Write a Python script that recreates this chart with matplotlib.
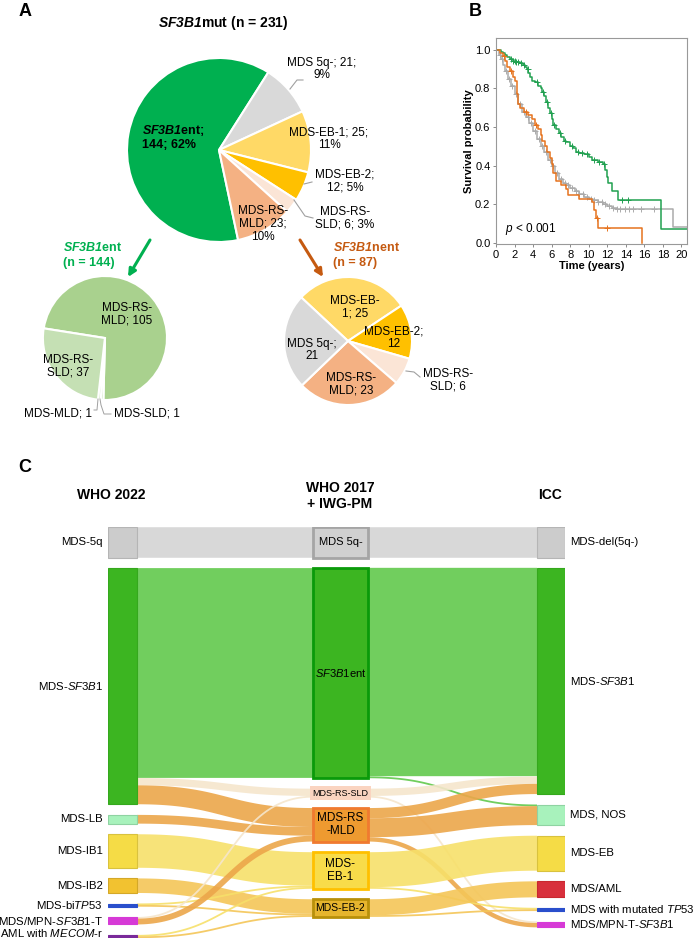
import numpy as np
import matplotlib.pyplot as plt

plt.rcParams['font.family'] = ['Liberation Sans', 'DejaVu Sans']
plt.rcParams['mathtext.fontset'] = 'custom'
plt.rcParams['mathtext.rm'] = 'Liberation Sans'
plt.rcParams['mathtext.it'] = 'Liberation Sans:italic'
plt.rcParams['mathtext.bf'] = 'Liberation Sans:bold:italic'

# ---------------- panel A data
mut_names = ['SF3B1ent', 'MDS 5q-', 'MDS-EB-1', 'MDS-EB-2', 'MDS-RS-SLD', 'MDS-RS-MLD']
mut_counts = [144, 21, 25, 12, 6, 23]
mut_colors = ['#00b050', '#d9d9d9', '#ffd966', '#ffc000', '#fbe5d6', '#f4b183']

ent_names = ['MDS-RS-MLD', 'MDS-MLD', 'MDS-SLD', 'MDS-RS-SLD']
ent_counts = [105, 1, 1, 37]
ent_colors = ['#a9d18e', '#c5e0b4', '#c5e0b4', '#c5e0b4']

nent_names = ['MDS-EB-1', 'MDS-EB-2', 'MDS-RS-SLD', 'MDS-RS-MLD', 'MDS 5q-']
nent_counts = [25, 12, 6, 23, 21]
nent_colors = ['#ffd966', '#ffc000', '#fbe5d6', '#f4b183', '#d9d9d9']

# ---------------- panel B data (Kaplan-Meier steps)
ent_t = [0, 0.5, 0.8, 1.0, 1.2, 1.5, 1.8, 2.1, 2.6, 2.9, 3.1, 3.3, 3.5, 3.7, 3.9, 4.2, 4.5, 4.8,
         5.0, 5.2, 5.4, 5.6, 5.8, 6.0, 6.2, 6.5, 6.8, 7.0, 7.3, 7.6, 8.0, 8.3, 8.6, 9.0, 9.5,
         10.0, 10.4, 11.0, 11.5, 11.8, 12.0, 12.1, 12.5, 13.2, 17.8]
ent_s = [1.0, 0.99, 0.98, 0.97, 0.96, 0.95, 0.94, 0.935, 0.93, 0.92, 0.91, 0.90, 0.88, 0.86, 0.84,
         0.83, 0.81, 0.80, 0.78, 0.76, 0.73, 0.70, 0.67, 0.64, 0.61, 0.59, 0.57, 0.55, 0.53, 0.52,
         0.50, 0.49, 0.47, 0.465, 0.46, 0.445, 0.43, 0.42, 0.41, 0.38, 0.34, 0.31, 0.27, 0.22, 0.07]
ent_cens = [1.6, 1.8, 2.0, 2.2, 2.4, 2.7, 3.0, 3.4, 4.4, 5.1, 5.5, 5.9, 6.3, 6.9, 7.4, 8.2, 8.8,
            9.3, 9.8, 10.6, 11.1, 11.6, 13.6, 14.2]

nent_t = [0, 0.4, 0.8, 1.0, 1.2, 1.5, 1.8, 2.1, 2.3, 2.4, 2.6, 3.0, 3.5, 3.9, 4.2, 4.5, 4.8, 5.0,
          5.3, 5.5, 5.8, 6.0, 6.2, 6.5, 7.0, 7.5, 7.8, 9.0, 10.4, 10.6, 10.8, 11.0, 15.8]
nent_s = [1.0, 0.98, 0.965, 0.94, 0.91, 0.89, 0.86, 0.84, 0.77, 0.72, 0.70, 0.68, 0.66, 0.64,
          0.61, 0.59, 0.56, 0.53, 0.50, 0.47, 0.44, 0.41, 0.36, 0.32, 0.30, 0.28, 0.25, 0.23,
          0.21, 0.17, 0.13, 0.08, 0.0]
nent_cens = [0.9, 1.6, 3.2, 4.3, 10.9, 12.0]

oth_t = [0, 0.3, 0.5, 0.8, 1.0, 1.3, 1.6, 2.0, 2.4, 2.8, 3.2, 3.6, 4.0, 4.4, 4.8, 5.2, 5.6, 6.0,
         6.4, 6.8, 7.2, 7.6, 8.0, 8.5, 9.0, 9.5, 10.0, 10.5, 11.0, 11.5, 12.0, 12.5, 13.0, 19.1]
oth_s = [1.0, 0.97, 0.95, 0.92, 0.89, 0.85, 0.81, 0.77, 0.72, 0.68, 0.65, 0.62, 0.58, 0.54, 0.50,
         0.47, 0.43, 0.40, 0.36, 0.33, 0.31, 0.30, 0.285, 0.27, 0.255, 0.24, 0.23, 0.22, 0.21,
         0.20, 0.19, 0.18, 0.175, 0.085]
oth_cens = [0.4, 0.7, 1.1, 1.4, 1.7, 2.2, 2.6, 3.0, 3.4, 3.8, 4.2, 4.6, 5.0, 5.4, 5.8, 6.2, 6.6,
            7.0, 7.4, 7.8, 8.2, 8.6, 9.0, 9.4, 9.8, 10.2, 10.6, 11.0, 11.4, 11.8, 12.2, 12.6,
            13.0, 13.4, 13.9, 14.3, 14.8, 15.6, 17.0]

# ---------------- panel C data (Sankey)
who22 = ['MDS-5q', 'MDS-$\\mathit{SF3B1}$', 'MDS-LB', 'MDS-IB1', 'MDS-IB2', 'MDS-bi$\\mathit{TP53}$',
         'MDS/MPN-$\\mathit{SF3B1}$-T', 'AML with $\\mathit{MECOM}$-r']
who17 = ['MDS 5q-', '$\\mathit{SF3B1}$ent', 'MDS-RS-SLD', 'MDS-RS\n-MLD', 'MDS-\nEB-1', 'MDS-EB-2']
icc = ['MDS-del(5q-)', 'MDS-$\\mathit{SF3B1}$', 'MDS, NOS', 'MDS-EB', 'MDS/AML',
       'MDS with mutated $\\mathit{TP53}$', 'MDS/MPN-T-$\\mathit{SF3B1}$']
# (source, target, patients)
flows_22_17 = [(0, 0, 21), (1, 1, 144), (1, 2, 5), (1, 3, 13), (2, 3, 6), (3, 4, 23), (4, 5, 10),
               (5, 4, 1), (5, 5, 1), (6, 2, 1), (6, 3, 4), (7, 4, 1), (7, 5, 1)]
flows_17_icc = [(0, 0, 21), (1, 1, 143), (1, 2, 1), (2, 1, 5), (2, 6, 1), (3, 1, 7), (3, 2, 13),
                (3, 6, 3), (4, 3, 24), (4, 5, 1), (5, 4, 11), (5, 5, 1)]

who22_fill = ['#cccccc', '#3cb521', '#a8f2bc', '#f5dc46', '#f2c230', '#2a4fcc', '#d63ad6', '#7a2a9a']
who22_edge = ['#b5b5b5', '#35a81d', '#8fd3a2', '#d9c23e', '#d4a828', '#2a4fcc', '#d63ad6', '#7a2a9a']
icc_fill = ['#cccccc', '#3cb521', '#a8f2bc', '#f5dc46', '#d8303c', '#2a4fcc', '#d63ad6']
icc_edge = ['#b5b5b5', '#35a81d', '#8fd3a2', '#d9c23e', '#c8282f', '#2a4fcc', '#d63ad6']
who17_fill = ['#d0d0d0', '#3cb521', '#fad4c0', '#ee9a30', '#f8dc4a', '#e6b52e']
who17_edge = ['#a5a5a5', '#0a9a0a', '#fad4c0', '#f07a30', '#ffc000', '#b8900a']
who17_link = ['#d4d4d4', '#62c94c', '#f5e6cc', '#eca64a', '#f7e06a', '#f4c658']
who17_fs = [8, 8, 6.5, 8.5, 8.5, 7.5]

W, H = 696, 940
fig = plt.figure(figsize=(W / 100, H / 100), dpi=100)
ax = fig.add_axes([0, 0, 1, 1])


def Y(y):
    return H - y


# ================= panel A
wp = dict(edgecolor='white', linewidth=1.5)
ax.pie(mut_counts, colors=mut_colors, startangle=-78, counterclock=False,
       center=(219, Y(150)), radius=92, wedgeprops=wp, frame=True)
ax.pie(ent_counts, colors=ent_colors, startangle=171, counterclock=False,
       explode=[0, 0, 0, 0.11], center=(105, Y(338)), radius=62, wedgeprops=wp, frame=True)
ax.pie(nent_counts, colors=nent_colors, startangle=137, counterclock=False,
       center=(348, Y(341)), radius=64, wedgeprops=wp, frame=True)

tot = sum(mut_counts)
pct = [round(100 * c / tot) for c in mut_counts]
fs = 8.5
ax.text(25, Y(12), 'A', fontsize=13, fontweight='bold', ha='center', va='center')
ax.text(223, Y(23), '$\\mathbf{SF3B1}$mut (n = %d)' % tot, fontsize=10, fontweight='bold',
        ha='center', va='center')
ax.text(142, Y(137), '$\\mathbf{SF3B1}$ent;\n%d; %d%%' % (mut_counts[0], pct[0]), fontsize=9,
        fontweight='bold', ha='left', va='center', linespacing=1.15)
ax.text(322, Y(69), 'MDS 5q-; %d;\n%d%%' % (mut_counts[1], pct[1]), fontsize=fs, ha='center',
        va='center', linespacing=1.1)
ax.text(329, Y(139), 'MDS-EB-1; %d;\n%d%%' % (mut_counts[2], pct[2]), fontsize=fs, ha='center',
        va='center', linespacing=1.1)
ax.text(345, Y(181), 'MDS-EB-2;\n%d; %d%%' % (mut_counts[3], pct[3]), fontsize=fs, ha='center',
        va='center', linespacing=1.1)
ax.text(345, Y(218), 'MDS-RS-\nSLD; %d; %d%%' % (mut_counts[4], pct[4]), fontsize=fs,
        ha='center', va='center', linespacing=1.1)
ax.text(263, Y(224), 'MDS-RS-\nMLD; %d;\n%d%%' % (mut_counts[5], pct[5]), fontsize=fs,
        ha='center', va='center', linespacing=1.1)
lc = '#a0a0a0'
ax.plot([290, 297, 303], [Y(89), Y(80), Y(80)], color=lc, lw=0.8)
ax.plot([304, 312], [Y(184), Y(182)], color=lc, lw=0.8)
ax.plot([294, 305, 313], [Y(200), Y(216), Y(218)], color=lc, lw=0.8)

# sub-pie headers and arrows
ax.text(63, Y(255), '$\\mathbf{SF3B1}$ent\n(n = %d)' % sum(ent_counts), fontsize=9,
        fontweight='bold', color='#00b050', ha='left', va='center', linespacing=1.25)
ax.text(333, Y(255), '$\\mathbf{SF3B1}$nent\n(n = %d)' % sum(nent_counts), fontsize=9,
        fontweight='bold', color='#c55a11', ha='left', va='center', linespacing=1.25)
ax.annotate('', xy=(128, Y(277)), xytext=(150, Y(240)),
            arrowprops=dict(arrowstyle='-|>', color='#00b050', lw=2.2, mutation_scale=11,
                            shrinkA=0, shrinkB=0))
ax.annotate('', xy=(323, Y(277)), xytext=(300, Y(240)),
            arrowprops=dict(arrowstyle='-|>', color='#c55a11', lw=2.2, mutation_scale=11,
                            shrinkA=0, shrinkB=0))

ax.text(127, Y(314), 'MDS-RS-\nMLD; %d' % ent_counts[0], fontsize=fs, ha='center', va='center',
        linespacing=1.1)
ax.text(68, Y(366), 'MDS-RS-\nSLD; %d' % ent_counts[3], fontsize=fs, ha='center', va='center',
        linespacing=1.1)
ax.text(92, Y(413), 'MDS-MLD; %d' % ent_counts[1], fontsize=fs, ha='right', va='center')
ax.text(114, Y(414), 'MDS-SLD; %d' % ent_counts[2], fontsize=fs, ha='left', va='center')
ax.plot([98, 97, 94], [Y(399), Y(410), Y(410)], color=lc, lw=0.7)
ax.plot([100, 101, 104, 111], [Y(399), Y(405), Y(414), Y(414)], color=lc, lw=0.7)

ax.text(355, Y(307), 'MDS-EB-\n1; %d' % nent_counts[0], fontsize=fs, ha='center', va='center',
        linespacing=1.1)
ax.text(394, Y(338), 'MDS-EB-2;\n%d' % nent_counts[1], fontsize=fs, ha='center', va='center',
        linespacing=1.1)
ax.text(312, Y(350), 'MDS 5q-;\n%d' % nent_counts[4], fontsize=fs, ha='center', va='center',
        linespacing=1.1)
ax.text(351, Y(384), 'MDS-RS-\nMLD; %d' % nent_counts[3], fontsize=fs, ha='center', va='center',
        linespacing=1.1)
ax.text(448, Y(380), 'MDS-RS-\nSLD; %d' % nent_counts[2], fontsize=fs, ha='center', va='center',
        linespacing=1.1)
ax.plot([406, 414, 420], [Y(371), Y(372), Y(377)], color=lc, lw=0.8)

# ================= panel B
ax.text(475, Y(11), 'B', fontsize=13, fontweight='bold', ha='center', va='center')
axb = fig.add_axes([496 / W, (H - 244) / H, 191 / W, 206 / H])
xend = 20.6
for t, s, cens, col in [(oth_t, oth_s, oth_cens, '#ababab'),
                        (ent_t, ent_s, ent_cens, '#20a050'),
                        (nent_t, nent_s, nent_cens, '#e6731e')]:
    t = np.array(t)
    s = np.array(s)
    last = xend if s[-1] > 0 else t[-1]
    axb.step(np.append(t, last), np.append(s, s[-1]), where='post', color=col, lw=1.1)
    cy = s[np.searchsorted(t, cens, side='right') - 1]
    axb.plot(cens, cy, '+', color=col, ms=4, mew=0.7)
axb.set_xlim(0, xend)
axb.set_ylim(-0.005, 1.06)
axb.set_xticks(np.arange(0, 21, 2))
axb.set_yticks(np.arange(0, 1.01, 0.2))
axb.set_yticklabels(['%.1f' % v for v in np.arange(0, 1.01, 0.2)])
axb.tick_params(labelsize=8, length=2.5, width=0.6, pad=1.5, color='#777777')
for sp in axb.spines.values():
    sp.set_color('#999999')
    sp.set_linewidth(0.8)
axb.set_xlabel('Time (years)', fontsize=8, fontweight='bold', labelpad=1)
axb.set_ylabel('Survival probability', fontsize=8, fontweight='bold', labelpad=1)
axb.text(1.0, 0.07, '$\\mathit{p}$ < 0.001', fontsize=8.5, ha='left', va='center')

# ================= panel C
ax.text(25, Y(468), 'C', fontsize=13, fontweight='bold', ha='center', va='center')
ax.text(111, Y(495), 'WHO 2022', fontsize=10, fontweight='bold', ha='center', va='center')
ax.text(340, Y(496), 'WHO 2017\n+ IWG-PM', fontsize=10, fontweight='bold', ha='center',
        va='center', linespacing=1.2)
ax.text(550, Y(495), 'ICC', fontsize=10, fontweight='bold', ha='center', va='center')

gap = 7.3
cols_x = [(0, 29), (205, 260), (429, 457)]


def sizes(n, flows, side):
    out = np.zeros(n)
    for f in flows:
        out[f[side]] += f[2]
    return out


size_l = sizes(len(who22), flows_22_17, 0)
size_m = sizes(len(who17), flows_22_17, 1)
size_r = sizes(len(icc), flows_17_icc, 1)


def tops(sz):
    return np.concatenate([[0], np.cumsum(sz[:-1] + gap)])


top_l, top_m, top_r = tops(size_l), tops(size_m), tops(size_r)
total = max(top_l[-1] + size_l[-1], top_r[-1] + size_r[-1], top_m[-1] + size_m[-1])

axs = fig.add_axes([108 / W, (H - 938) / H, 457 / W, 411 / H])
axs.set_xlim(0, 457)
axs.set_ylim(total, 0)
axs.axis('off')
px_per_unit = axs.bbox.height / total
pt_per_unit = px_per_unit * 72 / fig.dpi


def draw_links(flows, top_src, top_tgt, x0, x1, colidx):
    out_off = {}
    u = np.linspace(0, 1, 80)
    xm = (x0 + x1) / 2
    bx = (1 - u) ** 3 * x0 + 3 * (1 - u) ** 2 * u * xm + 3 * (1 - u) * u ** 2 * xm + u ** 3 * x1
    by = 3 * u ** 2 - 2 * u ** 3
    for s, t, v in sorted(flows, key=lambda f: (f[0], f[1])):
        o = out_off.get(s, 0)
        out_off[s] = o + v
        ys = top_src[s] + o + v / 2
        f_in = sorted([f for f in flows if f[1] == t], key=lambda f: f[0])
        io = sum(f[2] for f in f_in if f[0] < s)
        yt = top_tgt[t] + io + v / 2
        c = who17_link[colidx(s, t)]
        axs.plot(bx, ys + (yt - ys) * by, color=c, lw=max(v * pt_per_unit, 1.3), alpha=0.9,
                 solid_capstyle='butt', zorder=1)


draw_links(flows_22_17, top_l, top_m, cols_x[0][1], cols_x[1][0], lambda s, t: t)
draw_links(flows_17_icc, top_m, top_r, cols_x[1][1], cols_x[2][0], lambda s, t: s)


def draw_nodes(top, sz, xs, fills, edges, lw):
    for i in range(len(sz)):
        axs.add_patch(plt.Rectangle((xs[0], top[i]), xs[1] - xs[0], sz[i], facecolor=fills[i],
                                    edgecolor=edges[i], linewidth=lw, zorder=3))


draw_nodes(top_l, size_l, cols_x[0], who22_fill, who22_edge, 0.8)
draw_nodes(top_r, size_r, cols_x[2], icc_fill, icc_edge, 0.8)
draw_nodes(top_m, size_m, cols_x[1], who17_fill, who17_edge, 2.0)

for i, name in enumerate(who22):
    yc = min(top_l[i] + size_l[i] / 2, total - 3.2)
    axs.text(cols_x[0][0] - 5, yc, name, fontsize=8.2, ha='right', va='center', clip_on=False)
for i, name in enumerate(icc):
    yc = min(top_r[i] + size_r[i] / 2, total - 3.2)
    axs.text(cols_x[2][1] + 5, yc, name, fontsize=8.2, ha='left', va='center', clip_on=False)
mx = (cols_x[1][0] + cols_x[1][1]) / 2
for i, name in enumerate(who17):
    bb = None
    if i == 2:
        bb = dict(facecolor=who17_fill[i], edgecolor='none', pad=1.5)
    axs.text(mx, top_m[i] + size_m[i] / 2, name, fontsize=who17_fs[i], ha='center', va='center',
             linespacing=1.15, zorder=5, bbox=bb)

ax.set_xlim(0, W)
ax.set_ylim(0, H)
ax.axis('off')

fig.savefig('out.png', dpi=100)
